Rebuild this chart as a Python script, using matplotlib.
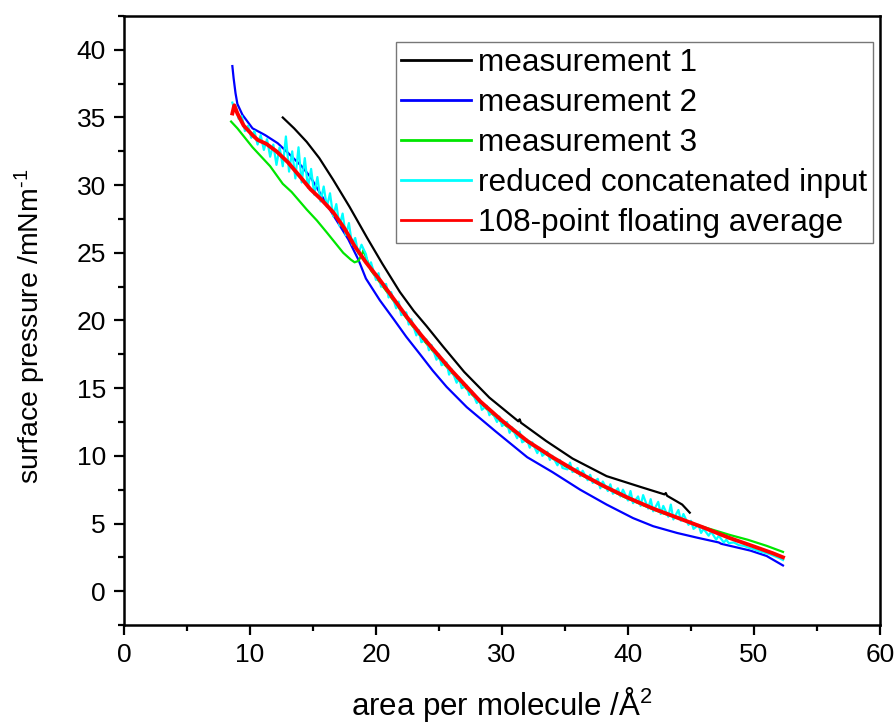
import matplotlib
matplotlib.use("Agg")
import matplotlib.pyplot as plt
from matplotlib.ticker import MultipleLocator

plt.rcParams["font.family"] = ["Liberation Sans", "DejaVu Sans"]
plt.rcParams["mathtext.fontset"] = "custom"
plt.rcParams["mathtext.rm"] = "Liberation Sans"
plt.rcParams["mathtext.it"] = "Liberation Sans:italic"

# ---- isotherm data: area per molecule (A^2) vs surface pressure (mN/m) ----
m1_x = [12.6, 13.5, 14.5, 15.5, 16.6, 17.9, 19.3, 20.5, 21.9, 23.0, 24.0, 25.3,
        27.0, 29.0, 31.3, 31.4, 31.5, 33.5, 35.6, 38.3, 41.0, 42.9, 43.0, 43.1,
        44.3, 44.9]
m1_y = [35.0, 34.2, 33.2, 32.0, 30.4, 28.4, 26.1, 24.2, 22.1, 20.7, 19.6, 18.1,
        16.2, 14.3, 12.55, 12.7, 12.45, 11.1, 9.8, 8.5, 7.7, 7.15, 7.25, 7.05,
        6.4, 5.8]

m2_x = [8.6, 8.7, 8.85, 9.0, 9.4, 10.2, 11.2, 12.2, 13.0, 14.1, 14.8, 16.6,
        17.8, 18.6, 19.2, 20.3, 21.4, 22.4, 23.5, 24.5, 25.6, 27.2, 29.5, 32.0,
        34.0, 36.2, 38.3, 40.4, 42.0, 43.9, 45.5, 47.2, 47.4, 49.7, 51.0, 52.3]
m2_y = [38.8, 37.9, 36.8, 36.0, 35.2, 34.2, 33.7, 33.1, 32.4, 31.4, 30.6, 27.8,
        26.0, 24.5, 23.1, 21.5, 20.1, 18.8, 17.5, 16.3, 15.1, 13.6, 11.8, 9.9,
        8.8, 7.5, 6.4, 5.4, 4.8, 4.3, 3.95, 3.6, 3.5, 3.0, 2.6, 1.9]

m3_x = [8.5, 9.0, 10.2, 10.8, 11.6, 12.6, 13.3, 14.5, 15.3, 16.1, 17.4, 18.0,
        18.3, 18.6, 18.9, 19.0, 19.6, 20.4, 21.6, 22.8, 24.0, 25.2, 26.4, 27.6,
        28.8, 30.0, 31.6, 33.2, 34.8, 36.4, 38.0, 39.6, 41.2, 42.8, 44.0, 44.9,
        46.5, 48.1, 49.5, 51.0, 52.3]
m3_y = [34.7, 34.2, 32.8, 32.2, 31.4, 30.1, 29.5, 28.2, 27.4, 26.5, 25.0, 24.5,
        24.3, 24.4, 24.9, 25.2, 23.7, 22.7, 21.2, 19.7, 18.3, 17.0, 15.75, 14.55,
        13.45, 12.45, 11.3, 10.3, 9.35, 8.55, 7.75, 7.0, 6.35, 5.75, 5.4, 5.05,
        4.6, 4.15, 3.8, 3.35, 2.9]

cyan_x = [8.60, 8.72, 8.85, 9.10, 9.35, 9.60, 9.85, 10.10, 10.35, 10.60, 10.85,
          11.10, 11.35, 11.60, 11.85, 12.10, 12.35, 12.60, 12.85, 13.10, 13.35,
          13.60, 13.85, 14.10, 14.35, 14.60, 14.85, 15.10, 15.35, 15.60, 15.85,
          16.10, 16.35, 16.60, 16.85, 17.10, 17.35, 17.60, 17.85, 18.10, 18.35,
          18.60, 18.85,
          19.2, 19.4, 19.6, 20.0, 20.2, 20.4, 20.8, 21.0, 21.2, 21.6, 21.8, 22.0,
          22.4, 22.6, 22.8, 23.2, 23.4, 23.6, 24.0, 24.2, 24.4, 24.8, 25.0, 25.2,
          25.6, 25.8, 26.0, 26.4, 26.6, 26.8, 27.2, 27.4, 27.6, 28.0, 28.2, 28.4,
          28.8, 29.0, 29.2, 29.6, 29.8, 30.0, 30.4, 30.6, 30.8, 31.2, 31.4, 31.6,
          32.0, 32.2, 32.4, 32.8, 33.0, 33.2, 33.6, 33.8, 34.0, 34.4, 34.6, 34.8,
          35.2, 35.4, 35.6, 36.0, 36.2, 36.4, 36.8, 37.0, 37.2, 37.6, 37.8, 38.0,
          38.4, 38.6, 38.8, 39.2, 39.4, 39.6, 40.0, 40.2, 40.4, 40.8, 41.0, 41.2,
          41.6, 41.8, 42.0, 42.4, 42.6, 42.8, 43.2, 43.4, 43.6, 44.0, 44.2, 44.4,
          44.8, 45.0, 45.2, 45.6, 45.8, 46.0, 46.4, 46.6, 47.0, 47.2, 47.6, 47.8,
          48.0, 48.4, 48.8, 49.2, 49.6, 50.0, 50.4, 50.8, 51.2, 51.6, 52.0, 52.3]
cyan_y = [36.1, 35.7, 35.9, 34.9, 35.1, 34.0, 34.4, 33.5, 34.0, 33.0, 33.7,
          32.6, 33.4, 32.1, 33.0, 31.5, 32.8, 31.4, 33.6, 31.0, 32.5,
          30.5, 32.8, 30.2, 32.0, 29.8, 31.2, 29.3, 30.6, 28.8, 29.9,
          28.4, 29.4, 27.7, 28.6, 27.0, 27.9, 26.3, 27.2, 25.6, 26.1,
          24.9, 25.6,
          24.9, 24.0, 24.3, 23.0, 23.5, 22.5, 22.7, 21.7, 22.1, 20.9, 21.4, 20.4,
          20.6, 19.7, 20.1, 18.9, 19.3, 18.4, 18.6, 17.8, 18.2, 17.1, 17.5, 16.7,
          16.9, 16.0, 16.4, 15.4, 15.8, 15.0, 15.2, 14.5, 14.8, 13.9, 14.2, 13.4,
          13.7, 13.0, 13.3, 12.5, 12.9, 12.2, 12.5, 11.7, 12.1, 11.3, 11.8, 11.0,
          11.2, 10.6, 11.0, 10.2, 10.6, 10.0, 10.3, 9.7, 10.0, 9.3, 9.7, 9.1,
          9.0, 9.5, 8.8, 9.1, 8.5, 8.9, 8.2, 8.6, 8.0, 8.3, 7.6, 8.1,
          7.4, 7.9, 7.2, 7.6, 7.0, 7.5, 6.7, 7.4, 6.5, 7.0, 6.3, 7.1,
          6.1, 6.8, 5.9, 6.6, 5.7, 6.3, 5.5, 6.4, 5.3, 6.0, 5.2, 5.7,
          4.9, 5.2, 4.6, 4.9, 4.3, 4.6, 4.1, 4.4, 3.8, 4.1, 3.6, 3.8,
          3.55, 3.6, 3.4, 3.35, 3.2, 3.1, 2.95, 2.85, 2.75, 2.6, 2.45, 2.3]

avg_x = [8.6, 8.75, 9.0, 9.5, 10.2, 10.6, 11.3, 12.1, 13.0, 14.0, 14.8, 15.7,
         16.6, 17.5, 18.3, 19.2, 20.3, 21.4, 22.5, 23.6, 24.7, 26.0, 27.2, 28.3,
         30.0, 32.0, 34.0, 36.0, 38.0, 40.0, 42.0, 44.0, 46.0, 48.0, 50.0, 51.5,
         52.3]
avg_y = [35.3, 35.9, 35.3, 34.4, 33.7, 33.35, 33.05, 32.5, 31.7, 30.6, 29.7, 28.9,
         28.0, 26.8, 25.5, 24.3, 23.0, 21.6, 20.2, 18.9, 17.7, 16.3, 15.1, 14.0,
         12.6, 11.1, 9.9, 8.8, 7.8, 6.9, 6.1, 5.4, 4.7, 3.95, 3.3, 2.8, 2.5]

labels = ["measurement 1", "measurement 2", "measurement 3",
          "reduced concatenated input", "108-point floating average"]
colors = ["#000000", "#0000FF", "#00E600", "#00FFFF", "#FF0000"]

fig = plt.figure(figsize=(8.95, 7.24), dpi=100)
ax = fig.add_axes([124 / 895, 99 / 724, 756 / 895, 609 / 724])

ax.plot(m1_x, m1_y, color=colors[0], lw=1.6, label=labels[0])
ax.plot(m2_x, m2_y, color=colors[1], lw=1.6, label=labels[1])
ax.plot(m3_x, m3_y, color=colors[2], lw=1.6, label=labels[2])
ax.plot(cyan_x, cyan_y, color=colors[3], lw=1.6, label=labels[3])
ax.plot(avg_x, avg_y, color=colors[4], lw=2.8, label=labels[4])

ax.set_xlim(0, 60)
ax.set_ylim(-2.5, 42.5)
ax.xaxis.set_major_locator(MultipleLocator(10))
ax.xaxis.set_minor_locator(MultipleLocator(5))
ax.yaxis.set_major_locator(MultipleLocator(5))
ax.yaxis.set_minor_locator(MultipleLocator(2.5))

for s in ax.spines.values():
    s.set_linewidth(1.8)
ax.tick_params(which="both", direction="out", top=False, right=False,
               width=1.6, labelsize=19, pad=6)
ax.tick_params(which="major", length=7)
ax.tick_params(which="minor", length=4)

ax.set_xlabel("area per molecule /Å$^2$", fontsize=22.5)
ax.set_ylabel(r"surface pressure /mNm$^{\text{-1}}$", fontsize=20.5)
ax.xaxis.set_label_coords(0.5, -0.098)
ax.yaxis.set_label_coords(-0.10, 0.49)

leg = ax.legend(loc="upper right", bbox_to_anchor=(0.9907, 0.957),
                borderaxespad=0, fontsize=22.7, frameon=True, fancybox=False,
                handlelength=2.2, handletextpad=0.25, labelspacing=0.32,
                borderpad=0.17)
leg.get_frame().set_edgecolor("#555555")
leg.get_frame().set_linewidth(1.0)
for line in leg.get_lines():
    line.set_linewidth(2.0)

fig.savefig("out.png", dpi=100)
